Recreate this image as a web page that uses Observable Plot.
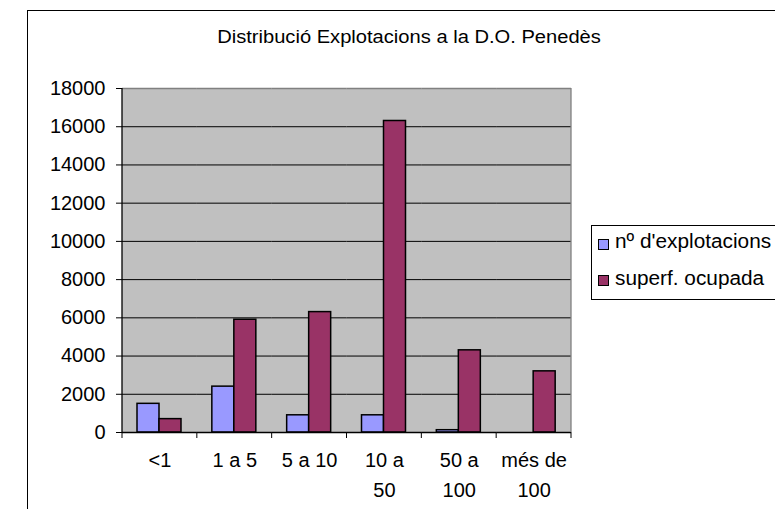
<!DOCTYPE html>
<html>
<head>
<meta charset="utf-8">
<script src="https://cdn.jsdelivr.net/npm/d3@7"></script>
<script src="https://cdn.jsdelivr.net/npm/@observablehq/plot@0.6"></script>
<style>
  html, body { margin: 0; padding: 0; background: #fff; }
  #wrap { position: relative; width: 775px; height: 509px; overflow: hidden; font-family: "Liberation Sans", Arial, sans-serif; color: #000; }
  #outer { position: absolute; left: 27px; top: 10px; width: 900px; height: 600px; border-left: 1.3px solid #000; border-top: 1.3px solid #000; }
  #chart { position: absolute; left: 0; top: 0; }
  #title { position: absolute; left: 108.5px; width: 600px; top: 29px; text-align: center; font-size: 17.5px; line-height: 17.5px; white-space: nowrap; transform: scaleX(1.15); transform-origin: 50% 50%; }
  #legend { position: absolute; left: 591px; top: 224.5px; width: 300px; height: 73px; border: 1px solid #000; background: #fff; }
  .sw { position: absolute; width: 9px; height: 9px; border: 1.2px solid #000; }
  .lt { position: absolute; font-size: 20px; line-height: 20px; white-space: nowrap; transform: scaleX(1.04); transform-origin: 0 50%; }
</style>
</head>
<body>
<div id="wrap">
  <div id="outer"></div>
  <div id="chart"></div>
  <div id="title"></div>
  <div id="legend"></div>
</div>
<script>
const titleText = "Distribució Explotacions a la D.O. Penedès";
const categories = ["<1", "1 a 5", "5 a 10", "10 a 50", "50 a 100", "més de 100"];
const tickLabels = ["<1", "1 a 5", "5 a 10", "10 a\n50", "50 a\n100", "més de\n100"];
const seriesNames = ["nº d'explotacions", "superf. ocupada"];
const explotacions = [1500, 2400, 900, 900, 120, 0];
const superficie = [700, 5900, 6300, 16300, 4300, 3200];
const yTicks = [0, 2000, 4000, 6000, 8000, 10000, 12000, 14000, 16000, 18000];
const seriesColors = ["#9999FF", "#993366"];

const data = [];
categories.forEach((c, i) => {
  data.push({cat: c, series: seriesNames[0], value: explotacions[i]});
  data.push({cat: c, series: seriesNames[1], value: superficie[i]});
});

const chart = Plot.plot({
  width: 775,
  height: 509,
  marginLeft: 122,
  marginRight: 204,
  marginTop: 88,
  marginBottom: 77,
  style: {fontFamily: "'Liberation Sans', Arial, sans-serif", fontSize: "20px", background: "transparent", overflow: "visible"},
  fx: {domain: categories, padding: 0, round: false, label: null},
  x: {domain: seriesNames, paddingInner: 0, paddingOuter: 0.7, axis: null},
  y: {domain: [0, 18000], label: null},
  color: {domain: seriesNames, range: seriesColors},
  marks: [
    Plot.ruleY(yTicks.filter(d => d > 0 && d < 18000), {stroke: "#000", strokeWidth: 1}),
    Plot.ruleY([18000], {stroke: "#808080", strokeWidth: 1.3}),
    Plot.barY(data, {fx: "cat", x: "series", y: "value", fill: "series", stroke: "#000", strokeWidth: 1.5}),
    Plot.ruleY([0], {stroke: "#000", strokeWidth: 1.3}),
    Plot.axisY({ticks: yTicks, tickSize: 6, tickPadding: 11, fontSize: 20, tickFormat: d => String(d), label: null}),
    Plot.axisFx({anchor: "bottom", tickSize: 0, tickPadding: 14, fontSize: 20, lineHeight: 1.47,
                 tickFormat: d => tickLabels[categories.indexOf(d)], label: null})
  ]
});
document.getElementById("chart").appendChild(chart);

// Plot-area background, category boundary ticks, left axis line and right border from Plot's own scales
const fxs = chart.scale("fx");
const ys = chart.scale("y");
const bounds = categories.map(c => fxs.apply(c));
bounds.push(fxs.apply(categories[categories.length - 1]) + fxs.bandwidth);
const svg = d3.select(chart.tagName.toLowerCase() === "svg" ? chart : chart.querySelector("svg"));
const y0 = ys.apply(0), yTop = ys.apply(18000);
svg.insert("rect", ":first-child")
  .attr("x", bounds[0]).attr("y", yTop)
  .attr("width", bounds[bounds.length - 1] - bounds[0]).attr("height", y0 - yTop)
  .attr("fill", "#C0C0C0");
const g = svg.append("g");
g.append("line").attr("x1", bounds[bounds.length - 1]).attr("x2", bounds[bounds.length - 1])
  .attr("y1", yTop).attr("y2", y0).attr("stroke", "#808080").attr("stroke-width", 1.3);
g.append("line").attr("x1", bounds[0]).attr("x2", bounds[0])
  .attr("y1", yTop).attr("y2", y0).attr("stroke", "#000").attr("stroke-width", 1.3);
g.selectAll("line.tk").data(bounds).join("line").attr("class", "tk")
  .attr("x1", d => d).attr("x2", d => d).attr("y1", y0).attr("y2", y0 + 6)
  .attr("stroke", "#000").attr("stroke-width", 1);

document.getElementById("title").textContent = titleText;

const legend = document.getElementById("legend");
seriesNames.forEach((name, i) => {
  const sw = document.createElement("div");
  sw.className = "sw";
  sw.style.left = "6px";
  sw.style.top = (13 + i * 36.5) + "px";
  sw.style.background = seriesColors[i];
  legend.appendChild(sw);
  const t = document.createElement("div");
  t.className = "lt";
  t.style.left = "23px";
  t.style.top = (5.5 + i * 36.5) + "px";
  t.textContent = name;
  legend.appendChild(t);
});
</script>
</body>
</html>
